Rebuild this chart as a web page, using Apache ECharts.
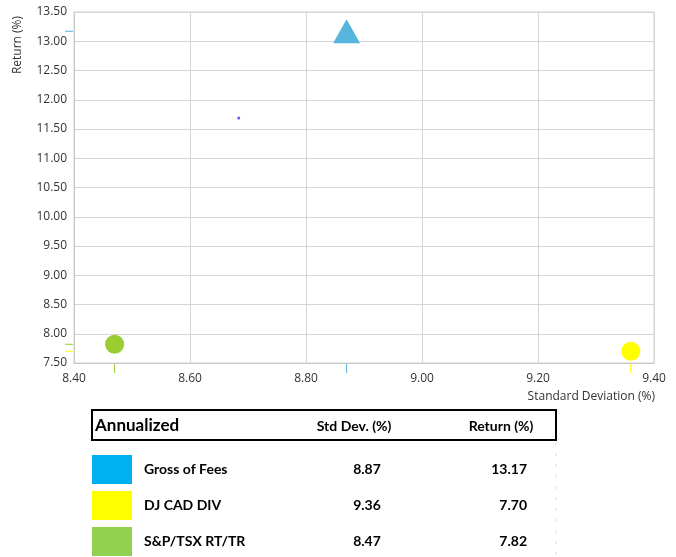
<!DOCTYPE html>
<html><head><meta charset="utf-8">
<script src="https://cdn.jsdelivr.net/npm/echarts@6/dist/echarts.min.js"></script>
<style>html,body{margin:0;padding:0;background:#fff}#c{width:676px;height:557px}</style>
</head><body><div id="c"></div>
<script>
const seriesNames = ['Gross of Fees', 'DJ CAD DIV', 'S&P/TSX RT/TR'];
const stdDev = [8.87, 9.36, 8.47];
const returns = [13.17, 7.70, 7.82];
const markColors = ['#55b5dc', '#ffff00', '#9acd32'];
const swatchColors = ['#00b0f0', '#ffff00', '#92d050'];
const symbols = ['triangle', 'circle', 'circle'];
const symbolSizes = [[27, 24], 19, 19];
const extraPoint = [8.684, 11.69];
const xTicks = [8.4, 8.6, 8.8, 9.0, 9.2, 9.4];
const yTicks = [7.5, 8.0, 8.5, 9.0, 9.5, 10.0, 10.5, 11.0, 11.5, 12.0, 12.5, 13.0, 13.5];
const tableHeader = ['Annualized', 'Std Dev. (%)', 'Return (%)'];

const chart = echarts.init(document.getElementById('c'));
const axisFont = 'Open Sans';
const series = [];
seriesNames.forEach((n, i) => {
  series.push({
    name: n, type: 'scatter', symbol: symbols[i], symbolSize: symbolSizes[i],
    itemStyle: { color: markColors[i], opacity: 1 },
    data: [[stdDev[i], returns[i]]], z: 5
  });
});
series.push({
  name: 'pt', type: 'scatter', symbolSize: 3, itemStyle: { color: '#3333ff' },
  data: [extraPoint], z: 5
});
series.push({
  name: 'rug', type: 'custom', clip: false, silent: true, z: 4,
  data: seriesNames.map((n, i) => [stdDev[i], returns[i], i]),
  renderItem: function (params, api) {
    const p = api.coord([api.value(0), api.value(1)]);
    const cs = params.coordSys;
    const col = markColors[api.value(2)];
    const bottom = cs.y + cs.height;
    return {
      type: 'group', children: [
        { type: 'line', shape: { x1: cs.x - 9, y1: p[1], x2: cs.x - 1, y2: p[1] }, style: { stroke: col, lineWidth: 1 } },
        { type: 'line', shape: { x1: p[0], y1: bottom + 1, x2: p[0], y2: bottom + 10 }, style: { stroke: col, lineWidth: 1 } }
      ]
    };
  }
});

const graphic = [
  { type: 'text', rotation: Math.PI / 2, x: 18, y: 45, style: { text: 'Return (%)', fontFamily: 'Open Sans', fontSize: 12, fill: '#333', align: 'center', verticalAlign: 'middle' } },
  { type: 'text', x: 655, y: 397, style: { text: 'Standard Deviation (%)', fontFamily: 'Open Sans', fontSize: 12, fill: '#333', align: 'right', verticalAlign: 'middle' } },
  { type: 'rect', shape: { x: 92, y: 410, width: 464, height: 30 }, style: { fill: 'none', stroke: '#000', lineWidth: 2 } },
  { type: 'text', x: 95, y: 426, style: { text: tableHeader[0], fontFamily: 'Lato', fontWeight: 'bold', fontSize: 17, fill: '#000', align: 'left', verticalAlign: 'middle' } },
  { type: 'text', x: 354, y: 426, style: { text: tableHeader[1], fontFamily: 'Lato', fontWeight: 'bold', fontSize: 14, fill: '#000', align: 'center', verticalAlign: 'middle' } },
  { type: 'text', x: 501, y: 426, style: { text: tableHeader[2], fontFamily: 'Lato', fontWeight: 'bold', fontSize: 14, fill: '#000', align: 'center', verticalAlign: 'middle' } },
  { type: 'line', shape: { x1: 556, y1: 442, x2: 556, y2: 557 }, style: { stroke: '#ddd', lineWidth: 1, lineDash: [3, 8] } }
];
const rowY = [469, 505, 541];
const rowTop = [455, 491, 527];
seriesNames.forEach((n, i) => {
  graphic.push({ type: 'rect', shape: { x: 92, y: rowTop[i], width: 40, height: 29 }, style: { fill: swatchColors[i] } });
  graphic.push({ type: 'text', x: 144, y: rowY[i], style: { text: n, fontFamily: 'Lato', fontWeight: 'bold', fontSize: 14, fill: '#000', align: 'left', verticalAlign: 'middle' } });
  graphic.push({ type: 'text', x: 367, y: rowY[i], style: { text: stdDev[i].toFixed(2), fontFamily: 'Lato', fontWeight: 'bold', fontSize: 14, fill: '#000', align: 'center', verticalAlign: 'middle' } });
  graphic.push({ type: 'text', x: 527, y: rowY[i], style: { text: returns[i].toFixed(2), fontFamily: 'Lato', fontWeight: 'bold', fontSize: 14, fill: '#000', align: 'right', verticalAlign: 'middle' } });
});

chart.setOption({
  animation: false,
  backgroundColor: '#fff',
  grid: { left: 74, top: 12, width: 580, height: 351, show: true, borderColor: '#d0d0d0', borderWidth: 1 },
  xAxis: {
    type: 'value', min: xTicks[0], max: xTicks[xTicks.length - 1], interval: 0.2,
    axisLine: { show: true, lineStyle: { color: '#c8c8c8' } }, axisTick: { show: false },
    splitLine: { show: true, lineStyle: { color: '#d6d6d6' } },
    axisLabel: { margin: 10, color: '#333', fontFamily: axisFont, fontSize: 12, formatter: v => v.toFixed(2) }
  },
  yAxis: {
    type: 'value', min: yTicks[0], max: yTicks[yTicks.length - 1], interval: 0.5,
    axisLine: { show: true, lineStyle: { color: '#c8c8c8' } }, axisTick: { show: false },
    splitLine: { show: true, lineStyle: { color: '#d6d6d6' } },
    axisLabel: { margin: 7, color: '#333', fontFamily: axisFont, fontSize: 12, formatter: v => v.toFixed(2) }
  },
  series: series,
  graphic: graphic
});
</script></body></html>
